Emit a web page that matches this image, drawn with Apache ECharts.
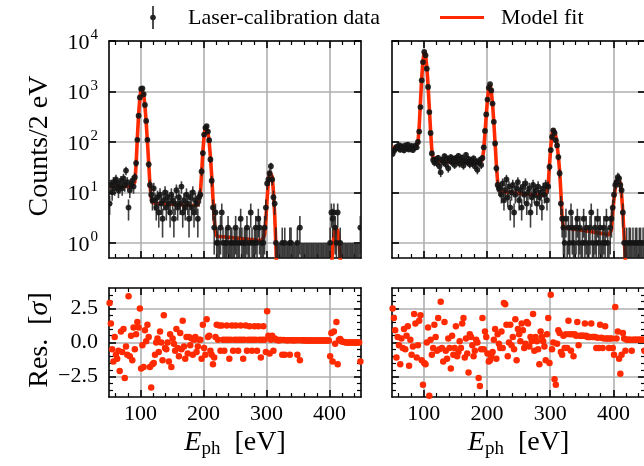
<!DOCTYPE html>
<html><head><meta charset="utf-8">
<script src="https://cdn.jsdelivr.net/npm/echarts@6/dist/echarts.min.js"></script>
<style>html,body{margin:0;padding:0;background:#fff}#c{width:644px;height:466px}</style>
</head><body><div id="c"></div>
<script>
// ---------------- data (2 eV bins) ----------------
const energy = [
 51,53,55,57,59,61,63,65,67,69,71,73,75,77,79,81,83,85,87,89,
 91,93,95,97,99,101,103,105,107,109,111,113,115,117,119,121,123,125,127,129,
 131,133,135,137,139,141,143,145,147,149,151,153,155,157,159,161,163,165,167,169,
 171,173,175,177,179,181,183,185,187,189,191,193,195,197,199,201,203,205,207,209,
 211,213,215,217,219,221,223,225,227,229,231,233,235,237,239,241,243,245,247,249,
 251,253,255,257,259,261,263,265,267,269,271,273,275,277,279,281,283,285,287,289,
 291,293,295,297,299,301,303,305,307,309,311,313,315,317,319,321,323,325,327,329,
 331,333,335,337,339,341,343,345,347,349,351,353,355,357,359,361,363,365,367,369,
 371,373,375,377,379,381,383,385,387,389,391,393,395,397,399,401,403,405,407,409,
 411,413,415,417,419,421,423,425,427,429,431,433,435,437,439,441,443,445,447,449];

const countsLeft = [
 6,14,10,16,12,18,15,11,13,17,12,19,14,27,16,5,11,14,17,13,
 20,38,110,330,760,1120,1150,880,540,260,110,36,14,9,7,12,7,5,8,4,
 9,6,3,7,10,5,8,6,4,9,7,3,6,11,5,8,6,13,4,7,
 5,9,6,3,8,5,10,4,7,6,3,8,9,26,60,140,190,205,160,108,
 45,17,5,2,4,1,1,0,2,4,1,0,1,1,2,0,1,1,0,1,
 2,1,0,1,3,1,0,1,1,2,0,1,4,1,0,1,2,1,3,2,
 0,1,1,2,5,15,18,24,33,18,8,6,1,0,0,0,0,1,0,1,
 0,0,0,1,1,0,0,0,0,1,0,2,0,0,0,0,0,0,0,0,
 0,0,0,0,0,0,0,0,0,0,0,0,0,0,0,1,4,3,4,2,
 1,4,0,1,0,0,0,0,0,0,0,0,0,0,0,0,0,0,0,2];

const fitLeft = [
 13.1,13.1,13.1,13.1,13.1,13.1,13.1,13.1,13.1,13.1,13.1,13.1,13.1,13.1,13.1,13.1,13.1,13.1,13.2,13.4,
 16,35,118,352,754,1108,1124,880,520,250,100,38,14,8,6.3,6.1,6.1,6.1,6.0,6.0,
 6.0,6.0,5.9,5.9,5.9,5.9,5.9,5.8,5.8,5.8,5.8,5.8,5.7,5.7,5.7,5.7,5.7,5.7,5.6,5.6,
 5.6,5.6,5.6,5.6,5.5,5.5,5.5,5.5,5.5,5.5,5.6,6.0,9.3,23.8,64.5,134,195,195,156,100,
 51,21.4,7.8,3.0,1.64,1.35,1.34,1.33,1.33,1.32,1.31,1.31,1.30,1.29,1.29,1.28,1.27,1.27,1.26,1.25,
 1.25,1.24,1.23,1.23,1.22,1.21,1.21,1.20,1.19,1.19,1.18,1.17,1.17,1.16,1.15,1.15,1.14,1.13,1.13,1.12,
 1.12,1.11,1.15,1.44,2.9,7.5,16.5,26,27.7,20.6,10.4,3.6,0.82,0.13,0.02,0.01,0.01,0.01,0.01,0.01,
 0.01,0.01,0.01,0.01,0.01,0.01,0.01,0.01,0.01,0.01,0.01,0.01,0.01,0.01,0.01,0.01,0.01,0.01,0.01,0.01,
 0.01,0.01,0.01,0.01,0.01,0.01,0.01,0.01,0.01,0.01,0.01,0.01,0.01,0.01,0.023,0.097,0.31,0.77,1.44,2.03,
 2.18,1.77,1.09,0.51,0.18,0.022,0.01,0.01,0.01,0.01,0.01,0.01,0.01,0.01,0.01,0.01,0.01,0.01,0.01,0.01];

const residLeft = [
 2.9,1.4,-0.5,-1.4,0.4,-0.9,-1.2,-0.6,-2.1,0.8,-0.7,1.0,-2.6,-0.3,-0.9,3.4,-1.0,0.5,-1.3,1.1,
 -0.5,0.6,1.5,1.1,2.5,-1.9,-0.2,-1.8,0.9,0.1,1.3,0.4,-1.8,-3.3,-1.6,-1.5,-0.9,0.0,0.3,-0.7,
 0.8,0.0,-1.3,2.0,-0.4,-0.5,0.0,-1.4,0.6,-1.8,0.3,-0.1,-0.6,1.0,-0.4,-1.0,0.7,-0.5,1.6,-0.3,
 -1.2,0.4,-0.8,0.4,-0.2,0.3,-0.9,0.2,0.4,-0.7,-0.3,0.2,0.2,-1.2,1.3,-0.4,-0.9,1.7,0.4,0.5,
 -0.6,-0.9,-1.6,-1.1,0.4,1.3,0.2,1.25,-0.6,1.25,0.2,-0.6,0.2,1.25,0.2,-1.2,0.2,1.25,-0.6,0.2,
 1.25,0.2,-0.6,0.2,1.25,0.2,-1.2,0.2,1.25,-0.6,0.2,1.2,0.2,-0.6,0.2,1.2,0.2,-0.6,1.2,0.2,
 -1.1,0.2,1.2,0.2,-0.7,2.3,0.5,-0.8,0.2,0.5,-0.6,0.3,0.2,0.2,0.15,0.18,0.18,-0.9,0.18,-0.9,
 0.17,0.17,0.17,-0.9,0.17,0.17,0.17,0.16,0.16,-0.9,0.16,-1.3,0.16,0.16,0.16,0.15,0.15,0.15,0.15,0.15,
 0.15,0.15,0.15,0.15,0.15,0.15,0.15,0.15,0.15,0.15,0.15,0.15,0.15,0.15,0.15,-1.0,0.7,-1.4,0.8,-0.1,
 1.5,-1.6,0.2,0.25,0.1,0.05,0.03,0.02,0.0,0.0,0.0,0.0,0.0,0.0,0.0,0.0,0.0,0.0,0.0,-1.4];

const countsRight = [
 58,66,72,80,75,86,70,82,77,68,85,74,88,71,79,83,69,76,84,78,
 100,160,490,1660,3820,6060,5200,2830,1230,390,150,59,44,39,45,38,48,33,25,44,
 40,52,36,47,30,43,50,39,46,35,48,41,53,37,44,49,34,42,55,40,
 46,36,43,38,47,33,41,28,39,44,35,48,78,165,350,690,1180,1390,1050,575,
 250,93,30,14,12,12,9,15,7,11,18,8,13,5,10,14,4,9,12,16,
 7,11,5,13,9,15,6,10,12,4,8,14,9,11,6,13,8,10,5,12,
 9,14,7,13,32,69,125,170,151,108,85,50,24,6,3,2,1,3,0,2,
 1,4,2,1,0,2,3,1,2,0,1,3,1,2,0,1,2,4,1,0,
 2,1,3,1,2,0,1,2,1,3,1,0,2,3,5,9,14,16,20,19,
 14,11,4,1,0,1,0,1,1,0,1,0,1,1,0,1,1,0,1,0];

const fitRight = [
 78,78,78,78,78,78,78,78,78,78,78,78,78,78,78,78,78,78,78,80,
 95,200,620,1900,4100,6200,5500,3000,1350,470,165,68,48,43,42,41.8,41.6,41.4,41.2,41.0,
 40.8,40.6,40.5,40.3,40.1,40.0,39.8,39.7,39.5,39.4,39.2,39.1,39.0,38.8,38.7,38.6,38.5,38.4,38.3,38.2,
 38.1,38.0,37.9,37.8,37.8,37.7,37.7,37.7,37.8,38.3,40,45,70,150,330,700,1200,1380,1020,560,
 240,95,35,16,11.5,10.3,10.3,10.2,10.2,10.1,10.1,10.0,10.0,9.9,9.9,9.8,9.8,9.7,9.7,9.6,
 9.6,9.5,9.5,9.4,9.4,9.3,9.3,9.2,9.2,9.1,9.1,9.0,9.0,9.0,8.9,8.9,8.9,8.8,8.8,8.8,
 8.9,9.3,10.5,14,35,80,140,180,175,130,85,52,27,10,3.2,2.0,1.98,1.96,1.95,1.93,
 1.92,1.9,1.89,1.87,1.86,1.84,1.83,1.81,1.8,1.78,1.77,1.75,1.74,1.72,1.71,1.69,1.68,1.66,1.65,1.63,
 1.62,1.6,1.59,1.57,1.56,1.54,1.53,1.51,1.5,1.48,1.46,1.44,1.45,1.8,4,7.5,12,16.5,19.5,19.5,
 15.5,9,4,1.3,0.45,0.15,0.05,0.02,0.01,0.01,0.01,0.01,0.01,0.01,0.01,0.01,0.01,0.01,0.01,0.01];

const residRight = [
 2.5,1.8,0.9,-1.1,0.4,-0.2,-1.6,0.3,-0.4,1.0,-0.5,0.5,1.2,-1.7,0.2,-0.9,-0.3,2.1,1.4,-1.1,
 -0.2,1.6,2.0,-1.3,-3.1,-1.5,-1.6,0.0,1.1,-3.9,0.2,-0.9,-0.4,1.3,0.4,-0.6,1.8,-0.5,3.0,-0.4,
 -1.4,1.5,-0.6,-1.2,0.3,-0.4,-1.9,0.5,-0.9,-0.4,1.2,-1.0,-0.7,0.1,-0.4,1.4,1.8,-1.1,0.3,-0.8,
 -2.2,0.6,0.4,-0.2,-1.0,-0.6,0.2,0.0,-2.6,-3.2,-0.5,1.8,-0.5,0.8,0.4,-0.8,-1.4,-1.3,-1.0,-0.7,
 0.2,1.0,-1.2,0.6,-0.1,-0.4,0.8,-0.4,2.9,2.8,1.3,-1.0,0.0,1.3,-0.2,0.4,-0.5,1.7,-1.3,1.0,
 0.6,0.1,1.4,0.9,-0.4,-0.1,1.5,1.4,-0.3,0.4,0.1,2.1,-0.6,0.4,0.1,-0.5,-1.6,0.8,0.4,0.1,
 -0.3,-1.3,0.6,1.8,-1.5,3.5,-0.5,0.0,-2.7,-3.1,-0.1,0.9,0.7,-0.7,-0.9,0.5,-0.4,0.6,-0.4,1.6,
 0.6,-0.6,0.6,-1.0,0.6,0.5,1.5,-0.2,0.5,0.5,0.5,0.5,1.4,0.5,0.4,0.4,0.4,1.4,0.4,0.4,
 0.4,-0.4,0.35,-0.4,1.3,0.35,-0.4,0.3,1.2,0.3,0.3,-0.4,0.3,0.3,-0.4,-0.9,2.6,0.3,0.8,-1.2,
 -2.3,-0.9,0.7,0.3,-0.6,0.2,0.2,0.2,0.2,-0.6,0.2,0.2,0.2,0.2,0.2,0.2,0.2,0.2,0.2,-0.6];

// tick positions
const xMajorTicks = [100, 200, 300, 400];
const xMinorTicks = [60, 80, 120, 140, 160, 180, 220, 240, 260, 280, 320, 340, 360, 380, 420, 440];
const logTicks = [1, 10, 100, 1000, 10000];
const resMajorTicks = [-2.5, 0, 2.5];
const resMinorTicks = [-3.5, -3, -2, -1.5, -1, -0.5, 0.5, 1, 1.5, 2, 3, 3.5];

// ---------------- styling ----------------
const FONT = 'Liberation Serif';
const FS = 22;      // tick labels and legend
const TFS = 28;     // axis titles
const RED = '#ff2a00';
const GRIDC = '#b0b0b0';
const AXW = 1.6;

const grids = [
  {left: 109, top: 41, width: 252, height: 217},
  {left: 392, top: 41, width: 253, height: 217},
  {left: 109, top: 288, width: 252, height: 109},
  {left: 392, top: 288, width: 253, height: 109}
].map(g => Object.assign(g, {containLabel: false, outerBoundsMode: 'none'}));

const xAxis = [], yAxis = [];
const mainX = [], mainY = [];

function addX(gi, showLabels) {
  const base = {type: 'value', gridIndex: gi, min: 50, max: 450};
  mainX[gi] = xAxis.length;
  xAxis.push(Object.assign({}, base, {
    position: 'bottom',
    axisLine: {show: true, onZero: false, lineStyle: {color: '#000', width: AXW}},
    axisTick: {show: true, inside: true, length: 7, customValues: xMajorTicks, lineStyle: {color: '#000', width: AXW}},
    axisLabel: {show: showLabels, customValues: xMajorTicks, fontFamily: FONT, fontSize: FS, color: '#000', margin: 6},
    splitLine: {show: true, lineStyle: {color: GRIDC, width: AXW}}
  }));
  xAxis.push(Object.assign({}, base, {
    position: 'bottom',
    axisLine: {show: false, onZero: false},
    axisTick: {show: true, inside: true, length: 4, customValues: xMinorTicks, lineStyle: {color: '#000', width: 1.2}},
    axisLabel: {show: false}, splitLine: {show: false}
  }));
  xAxis.push(Object.assign({}, base, {
    position: 'top',
    axisLine: {show: true, onZero: false, lineStyle: {color: '#000', width: AXW}},
    axisTick: {show: true, inside: true, length: 7, customValues: xMajorTicks, lineStyle: {color: '#000', width: AXW}},
    axisLabel: {show: false}, splitLine: {show: false}
  }));
  xAxis.push(Object.assign({}, base, {
    position: 'top',
    axisLine: {show: false, onZero: false},
    axisTick: {show: true, inside: true, length: 4, customValues: xMinorTicks, lineStyle: {color: '#000', width: 1.2}},
    axisLabel: {show: false}, splitLine: {show: false}
  }));
}

function logLabel(v) {
  const l = Math.log10(v), n = Math.round(l);
  if (Math.abs(l - n) > 1e-6) return '';
  return '{b|10}{s|' + n + '}';
}
function resLabel(v) {
  if (Math.abs(v) < 1e-9) return '0.0';
  return (v < 0 ? '\u2212' : '') + Math.abs(v).toFixed(1);
}

function addLogY(gi, showLabels) {
  const base = {type: 'log', logBase: 10, gridIndex: gi, min: 0.5, max: 10000};
  mainY[gi] = yAxis.length;
  yAxis.push(Object.assign({}, base, {
    position: 'left',
    axisLine: {show: true, onZero: false, lineStyle: {color: '#000', width: AXW}},
    axisTick: {show: true, inside: true, length: 7, customValues: logTicks, lineStyle: {color: '#000', width: AXW}},
    axisLabel: {show: showLabels, customValues: logTicks, formatter: logLabel, margin: 11, color: '#000',
      rich: {b: {fontFamily: FONT, fontSize: FS, color: '#000', lineHeight: 26, verticalAlign: 'bottom'},
             s: {fontFamily: FONT, fontSize: 15, color: '#000', lineHeight: 26, verticalAlign: 'top', padding: [0, 0, 0, 1]}}},
    splitLine: {show: true, lineStyle: {color: GRIDC, width: AXW}}
  }));
  yAxis.push(Object.assign({}, base, {
    position: 'right',
    axisLine: {show: true, onZero: false, lineStyle: {color: '#000', width: AXW}},
    axisTick: {show: true, inside: true, length: 7, customValues: logTicks, lineStyle: {color: '#000', width: AXW}},
    axisLabel: {show: false}, splitLine: {show: false}
  }));
}

function addResY(gi, showLabels) {
  const base = {type: 'value', gridIndex: gi, min: -4, max: 4};
  mainY[gi] = yAxis.length;
  yAxis.push(Object.assign({}, base, {
    position: 'left',
    axisLine: {show: true, onZero: false, lineStyle: {color: '#000', width: AXW}},
    axisTick: {show: true, inside: true, length: 7, customValues: resMajorTicks, lineStyle: {color: '#000', width: AXW}},
    axisLabel: {show: showLabels, customValues: resMajorTicks, formatter: resLabel, margin: 11,
      fontFamily: FONT, fontSize: FS, color: '#000'},
    splitLine: {show: true, lineStyle: {color: GRIDC, width: AXW}}
  }));
  yAxis.push(Object.assign({}, base, {
    position: 'left',
    axisLine: {show: false, onZero: false},
    axisTick: {show: true, inside: true, length: 4, customValues: resMinorTicks, lineStyle: {color: '#000', width: 1.2}},
    axisLabel: {show: false}, splitLine: {show: false}
  }));
  yAxis.push(Object.assign({}, base, {
    position: 'right',
    axisLine: {show: true, onZero: false, lineStyle: {color: '#000', width: AXW}},
    axisTick: {show: true, inside: true, length: 7, customValues: resMajorTicks, lineStyle: {color: '#000', width: AXW}},
    axisLabel: {show: false}, splitLine: {show: false}
  }));
  yAxis.push(Object.assign({}, base, {
    position: 'right',
    axisLine: {show: false, onZero: false},
    axisTick: {show: true, inside: true, length: 4, customValues: resMinorTicks, lineStyle: {color: '#000', width: 1.2}},
    axisLabel: {show: false}, splitLine: {show: false}
  }));
}

addX(0, false); addX(1, false); addX(2, true); addX(3, true);
addLogY(0, true); addLogY(1, false); addResY(2, true); addResY(3, false);

function errRender(params, api) {
  const x = api.value(0), n = api.value(1);
  const err = n > 0 ? Math.sqrt(n) : 1;        // Poisson uncertainty of the counts
  const lo = Math.max(n - err, 0.5);            // clipped at the axis floor
  const hi = n + err;
  const p1 = api.coord([x, lo]), p2 = api.coord([x, hi]);
  const kids = [{type: 'line', shape: {x1: p1[0], y1: p1[1], x2: p2[0], y2: p2[1]},
                 style: {stroke: 'rgba(30,30,30,0.85)', lineWidth: 1.6}}];
  if (n > 0) {
    const c = api.coord([x, n]);
    kids.push({type: 'circle', shape: {cx: c[0], cy: c[1], r: 2.9}, style: {fill: 'rgba(20,20,20,0.9)'}});
  }
  return {type: 'group', children: kids};
}

function pairs(xs, ys) { return xs.map((e, i) => [e, ys[i]]); }

const series = [];
[[0, countsLeft, fitLeft], [1, countsRight, fitRight]].forEach(([gi, cnt, fit]) => {
  series.push({type: 'line', xAxisIndex: mainX[gi], yAxisIndex: mainY[gi], data: pairs(energy, fit),
    showSymbol: false, symbol: 'none', lineStyle: {color: RED, width: 3.6}, z: 2, clip: true, silent: true});
  series.push({type: 'custom', xAxisIndex: mainX[gi], yAxisIndex: mainY[gi], data: pairs(energy, cnt),
    renderItem: errRender, z: 3, clip: true, silent: true});
});
[[2, residLeft], [3, residRight]].forEach(([gi, res]) => {
  series.push({type: 'scatter', xAxisIndex: mainX[gi], yAxisIndex: mainY[gi], data: pairs(energy, res),
    symbolSize: 6.5, itemStyle: {color: RED, opacity: 1}, z: 3, clip: true, silent: true});
});

const txt = {fontFamily: FONT, fontSize: FS, fill: '#000'};
const ttl = {fontFamily: FONT, fontSize: TFS, fill: '#000'};
const graphic = [
  {type: 'line', shape: {x1: 153, y1: 6, x2: 153, y2: 29}, style: {stroke: '#222', lineWidth: 1.6}},
  {type: 'circle', shape: {cx: 153, cy: 17.5, r: 2.8}, style: {fill: '#222'}},
  {type: 'text', x: 188, y: 18, style: Object.assign({text: 'Laser-calibration data', align: 'left', verticalAlign: 'middle'}, txt)},
  {type: 'line', shape: {x1: 440, y1: 17.5, x2: 484, y2: 17.5}, style: {stroke: RED, lineWidth: 3.2}},
  {type: 'text', x: 501, y: 18, style: Object.assign({text: 'Model fit', align: 'left', verticalAlign: 'middle'}, txt)},
  {type: 'text', x: 40, y: 146, rotation: Math.PI / 2,
    style: Object.assign({text: 'Counts/2 eV', align: 'center', verticalAlign: 'middle'}, ttl)},
  {type: 'text', x: 40, y: 340, rotation: Math.PI / 2,
    style: {text: '{r|Res.  [}{i|\u03c3}{r|]}', align: 'center', verticalAlign: 'middle',
      rich: {r: Object.assign({}, ttl), i: Object.assign({fontStyle: 'italic'}, ttl)}}}
];
[235, 518.5].forEach(cx => {
  graphic.push({type: 'text', x: cx, y: 443, style: {
    text: '{i|E}{s|ph}{r|  [eV]}', align: 'center', verticalAlign: 'middle',
    rich: {
      i: {fontFamily: FONT, fontSize: TFS, fontStyle: 'italic', fill: '#000', lineHeight: 32, verticalAlign: 'middle'},
      s: {fontFamily: FONT, fontSize: 19, fill: '#000', lineHeight: 19, verticalAlign: 'bottom', padding: [7, 0, 0, 0]},
      r: {fontFamily: FONT, fontSize: TFS, fill: '#000', lineHeight: 32, verticalAlign: 'middle'}
    }}});
});

const chart = echarts.init(document.getElementById('c'), null, {renderer: 'canvas'});
chart.setOption({
  animation: false,
  backgroundColor: '#fff',
  grid: grids,
  xAxis: xAxis,
  yAxis: yAxis,
  series: series,
  graphic: graphic
});
</script>
</body></html>
